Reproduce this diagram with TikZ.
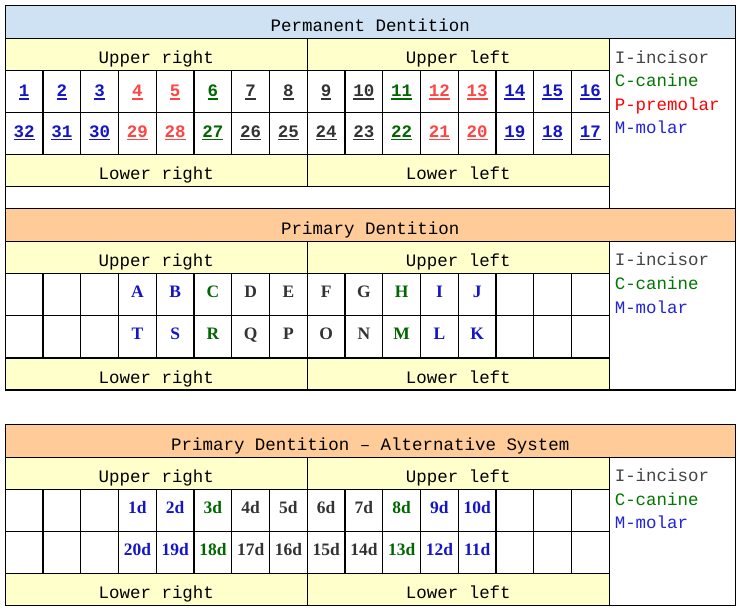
\documentclass[tikz,border=0pt]{standalone}
\usepackage{fontspec}
\setmainfont{Liberation Serif}
\newfontfamily\monofont{Liberation Mono}
\definecolor{titleblue}{HTML}{CFE2F3}
\definecolor{titlepeach}{HTML}{FFCC99}
\definecolor{headyellow}{HTML}{FFFFCC}
\definecolor{tblue}{HTML}{1414C8}
\definecolor{tred}{HTML}{FF4444}
\definecolor{tgreen}{HTML}{006600}
\definecolor{tgray}{HTML}{333333}
\definecolor{lgray}{HTML}{444444}
\definecolor{lgreen}{HTML}{007700}
\definecolor{lred}{HTML}{FF0000}
\definecolor{lblue}{HTML}{2424D8}
\newcommand\toothnum[1]{\setbox0\hbox{#1}\rlap{\rule[-2.3pt]{\wd0}{1.2pt}}\box0}
\newcommand\dentframe[5]{%
  \fill[#3] (5.3,#1) rectangle (735.3,#1+33);
  \fill[headyellow] (5.3,#1+33) rectangle (609.3,#1+65);
  \fill[headyellow] (5.3,#1+149.5) rectangle (609.3,#1+181.5);
  \draw[grid] (5.3,#1) rectangle (735.3,#2);
  \draw[grid] (5.3,#1+33) -- (735.3,#1+33);
  \draw[grid] (5.3,#1+65) -- (609.3,#1+65);
  \draw[grid] (5.3,#1+107) -- (609.3,#1+107);
  \draw[grid] (5.3,#1+149.5) -- (609.3,#1+149.5);
  \draw[grid] (5.3,#1+181.5) -- (609.3,#1+181.5);
  \draw[grid] (609.3,#1+33) -- (609.3,#2);
  \draw[grid] (307.3,#1+33) -- (307.3,#1+181.5);
  \foreach \k in {1,...,15} \draw[grid] (5.3+37.75*\k,#1+65) -- (5.3+37.75*\k,#1+149.5);
  \node[mono] (#5-title) at (370.3,#1+26.4) {#4};
  \node[mono] (#5-ur) at (156.3,#1+58) {Upper right};
  \node[mono] (#5-ul) at (458.3,#1+58) {Upper left};
  \node[mono] (#5-lr) at (156.3,#1+174.5) {Lower right};
  \node[mono] (#5-ll) at (458.3,#1+174.5) {Lower left};
}
\begin{document}
\begin{tikzpicture}[x=0.75pt,y=-0.75pt,
  grid/.style={line width=1pt},
  mono/.style={font=\fontsize{13.1}{15}\monofont,anchor=base},
  tooth/.style={font=\fontsize{13.1}{15}\monofont\bfseries,anchor=base},
  letter/.style={font=\fontsize{13.1}{15}\rmfamily\bfseries,anchor=base},
  legend/.style={font=\fontsize{13.1}{15}\monofont,anchor=base west,inner sep=0pt}]
\useasboundingbox (0,0) rectangle (740,611);
\fill[white] (0,0) rectangle (740,611);

\dentframe{5.3}{208.5}{titleblue}{Permanent Dentition}{pd}
\dentframe{208.5}{390}{titlepeach}{Primary Dentition}{pr}
\dentframe{424.3}{605.8}{titlepeach}{Primary Dentition – Alternative System}{alt}

\foreach \n/\c [count=\i from 0] in {1/tblue,2/tblue,3/tblue,4/tred,5/tred,6/tgreen,7/tgray,8/tgray,9/tgray,10/tgray,11/tgreen,12/tred,13/tred,14/tblue,15/tblue,16/tblue}
  \node[tooth,text=\c] (pd-\n) at (24.2+37.75*\i,96.7) {\toothnum{\n}};
\foreach \n/\c [count=\i from 0] in {32/tblue,31/tblue,30/tblue,29/tred,28/tred,27/tgreen,26/tgray,25/tgray,24/tgray,23/tgray,22/tgreen,21/tred,20/tred,19/tblue,18/tblue,17/tblue}
  \node[tooth,text=\c] (pd-\n) at (24.2+37.75*\i,137.3) {\toothnum{\n}};

\foreach \n/\c [count=\i from 3] in {A/tblue,B/tblue,C/tgreen,D/tgray,E/tgray,F/tgray,G/tgray,H/tgreen,I/tblue,J/tblue}
  \node[letter,text=\c] (pr-\n) at (24.2+37.75*\i,297.7) {\n};
\foreach \n/\c [count=\i from 3] in {T/tblue,S/tblue,R/tgreen,Q/tgray,P/tgray,O/tgray,N/tgray,M/tgreen,L/tblue,K/tblue}
  \node[letter,text=\c] (pr-\n) at (24.2+37.75*\i,339) {\n};

\foreach \n/\c [count=\i from 3] in {1/tblue,2/tblue,3/tgreen,4/tgray,5/tgray,6/tgray,7/tgray,8/tgreen,9/tblue,10/tblue}
  \node[letter,text=\c] (alt-\n d) at (24.2+37.75*\i,513.7) {\n d};
\foreach \n/\c [count=\i from 3] in {20/tblue,19/tblue,18/tgreen,17/tgray,16/tgray,15/tgray,14/tgray,13/tgreen,12/tblue,11/tblue}
  \node[letter,text=\c] (alt-\n d) at (24.2+37.75*\i,555) {\n d};

\node[legend,text=lgray] (pd-key1) at (614.5,63.3) {I-incisor};
\node[legend,text=lgreen] (pd-key2) at (614.5,86.7) {C-canine};
\node[legend,text=lred] (pd-key3) at (614.5,110.1) {P-premolar};
\node[legend,text=lblue] (pd-key4) at (614.5,133.5) {M-molar};

\node[legend,text=lgray] (pr-key1) at (614.5,265.7) {I-incisor};
\node[legend,text=lgreen] (pr-key2) at (614.5,289.3) {C-canine};
\node[legend,text=lblue] (pr-key3) at (614.5,313.3) {M-molar};

\node[legend,text=lgray] (alt-key1) at (614.5,481.7) {I-incisor};
\node[legend,text=lgreen] (alt-key2) at (614.5,505.2) {C-canine};
\node[legend,text=lblue] (alt-key3) at (614.5,528.7) {M-molar};
\end{tikzpicture}
\end{document}
